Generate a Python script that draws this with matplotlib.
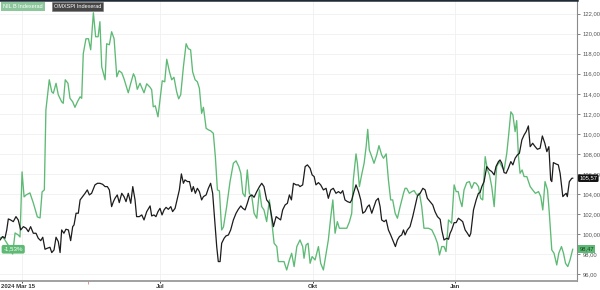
import matplotlib
matplotlib.use("Agg")
import matplotlib.pyplot as plt
import matplotlib.transforms as mtransforms

plt.rcParams["font.family"] = ["Liberation Sans", "DejaVu Sans"]

# Indexed series, x is session position along the axis
nil_x = [0, 1.2, 2.2, 4.4, 5.6, 6.7, 8.1, 8.9, 9.8, 10.7, 11.6, 13.3, 14.8, 16.6, 17.8, 18.7, 19.7,
         20.4, 21.9, 23.0, 23.7, 24.9, 25.9, 27.4, 28.1, 29.0, 30.2, 31.1, 32.3, 33.3, 34.4, 35.6,
         36.3, 37.0, 38.2, 39.3, 40.3, 41.5, 42.5, 43.6, 44.4, 45.2, 46.7, 47.4, 48.6, 49.6, 50.7,
         51.9, 52.9, 54.1, 55.1, 57.0, 58.1, 59.3, 60.0, 61.0, 62.2, 64.0, 65.2, 66.7,
         67.4, 68.1, 69.0, 70.2, 71.1, 72.1, 73.2, 74.1, 75.3, 76.3, 77.3, 78.5, 79.4, 80.3, 81.5,
         82.7, 83.7, 84.7, 85.6, 86.7, 87.7, 88.6, 89.6, 90.4, 91.6, 92.6, 93.6, 94.8, 95.7, 96.6,
         97.5, 98.5, 99.3, 100.7, 102.2, 103.7, 104.9, 106.1, 107.0, 107.9, 108.9, 109.9, 110.8,
         111.9, 112.9, 114.1, 115.3, 116.3, 117.3, 118.5, 119.7, 120.7, 121.8, 123.0, 123.7, 125.2,
         126.2, 127.4, 128.6, 129.6, 130.7, 131.9, 133.3,
         134.5, 135.1, 136.0, 136.9, 137.8, 138.7, 140.0, 141.5, 142.5, 143.7, 144.9, 145.9, 147.0,
         147.9, 148.9, 149.9, 150.8, 152.3, 154.1, 155.3, 156.3, 157.0, 158.2, 158.8, 159.7, 160.7,
         161.8, 162.7, 163.4, 164.1, 165.2, 166.2, 167.4, 168.4, 169.6, 170.4, 171.6, 172.6, 173.6,
         174.5, 175.6, 176.6, 177.8, 179.3, 180.0, 180.7, 181.9, 183.0, 184.0, 185.2, 186.4, 187.4,
         188.4, 190.4, 191.9, 193.3, 194.4, 195.3, 196.3, 197.3, 198.2, 199.3, 200.0,
         200.7, 201.8, 202.7, 203.6, 204.4, 205.3, 206.2, 207.4, 208.6, 209.6, 210.7, 211.6, 212.6,
         213.6, 214.5, 215.6, 216.6, 217.5, 218.5, 219.6, 220.7, 221.9, 223.0, 224.0, 225.2, 226.1,
         227.0, 227.9, 228.9, 229.6, 230.4, 231.1, 232.0, 232.9, 234.1, 235.6, 236.7, 237.9, 239.3,
         240.3, 241.2, 242.2, 243.3, 244.1, 245.2, 246.2, 247.4, 248.3, 249.5, 250.4, 251.3, 252.3,
         253.3, 254.5]
nil_y = [99.6, 99.7, 99.4, 98.6, 98.0, 100.1, 99.9, 99.7, 106.2, 103.7, 103.9, 104.1, 103.1, 101.7,
         101.6, 104.2, 104.4, 112.4, 115.4, 114.2, 114.05, 115.05, 113.9, 113.2, 113.05, 115.4,
         115.05, 113.55, 113.2, 112.65, 113.2, 113.7, 113.55, 118.0, 119.5, 119.5, 118.4, 122.1,
         119.7, 119.7, 121.2, 116.7, 115.4, 119.0, 118.9, 120.2, 119.5, 115.7, 116.3, 116.1, 115.5,
         114.1, 115.05, 116.0, 115.65, 114.45, 115.05, 114.1, 115.0, 114.65,
         114.4, 112.7, 112.8, 111.7, 113.4, 115.3, 115.2, 117.45, 116.2, 115.4, 115.65, 114.2, 113.5,
         113.9, 116.7, 119.0, 118.5, 118.4, 116.2, 115.4, 115.2, 114.55, 112.05, 112.65, 110.55,
         110.4, 110.3, 110.05, 107.7, 104.4, 104.3, 100.4, 100.7, 102.7, 105.2, 107.06, 107.3, 106.73,
         106.06, 104.06, 103.73, 106.4, 104.06, 103.73, 102.07, 101.57, 104.4, 102.73, 102.4, 101.23,
         103.4, 101.4, 99.07, 98.74, 97.24, 97.24, 97.24, 96.4, 97.4, 98.07, 96.74, 98.74, 99.4,
         98.74, 97.57, 98.9, 99.07, 97.07, 97.74, 97.4, 98.74, 97.07, 96.4, 98.07, 99.4, 101.73,
         103.4, 100.07, 101.23, 100.57, 100.57, 100.57, 101.23, 102.07, 105.4, 108.0, 107.06, 104.73,
         105.9, 107.06, 108.72, 110.45, 108.39, 107.72, 107.06, 107.89, 108.82, 107.89, 107.56, 108.0,
         105.4, 103.4, 103.4, 102.07, 101.57, 102.73, 104.06, 104.56, 104.56, 104.06, 104.23, 104.33,
         103.9, 104.06, 102.73, 100.57, 100.57, 100.4, 99.74, 99.07, 97.9, 98.74, 98.74, 98.24,
         101.4, 101.23,
         101.07, 104.9, 104.23, 104.23, 103.4, 102.73, 104.4, 105.13, 105.23, 104.56, 105.13, 105.06,
         104.73, 103.56, 103.4, 107.72, 106.39, 105.9, 104.73, 102.73, 106.73, 107.23, 106.73, 106.39,
         108.06, 110.05, 112.2, 111.9, 110.22, 111.32, 107.72, 106.06, 106.39, 105.73, 105.73, 104.73,
         104.4, 104.06, 104.23, 103.73, 102.4, 105.23, 104.4, 102.07, 98.4, 98.07, 96.9, 98.07, 98.74,
         98.07, 97.07, 96.74, 97.4, 98.47]

omx_x = [0, 1.2, 2.2, 3.0, 3.7, 4.7, 5.9, 7.1, 8.1, 9.2, 10.4, 11.6, 12.6, 13.6, 14.8, 16.0, 17.0,
         18.1, 19.0, 20.0, 21.0, 22.2, 23.0, 24.0, 24.9, 25.9, 26.7, 27.4, 28.4, 29.3, 30.4, 31.4,
         32.3, 32.9, 33.8, 34.8, 35.6, 36.7, 37.8, 38.8, 39.7, 40.7, 42.2, 43.3, 44.4, 45.6, 46.7,
         47.7, 48.6, 49.6, 50.4, 51.1, 52.1, 53.0, 54.1, 55.1, 56.0, 57.0, 58.1, 59.0, 60.0, 60.7,
         61.9, 63.0, 64.0, 65.2, 66.7,
         67.4, 68.4, 69.3, 70.2, 71.1, 72.0, 72.9, 73.8, 74.8, 75.9, 76.7, 77.8, 78.5, 79.7, 80.6,
         81.5, 82.2, 83.3, 84.2, 85.2, 85.9, 86.8, 87.7, 88.6, 89.6, 90.4, 91.6, 92.6, 93.6, 94.5,
         95.6, 96.3, 97.0, 97.8, 98.5, 99.6, 100.4, 101.5, 102.5, 103.7, 104.9, 105.9, 107.0, 107.9,
         108.9, 109.9, 110.8, 111.9, 112.9, 114.1, 115.3, 116.3, 117.3, 118.5, 119.7, 120.7, 121.5,
         122.7, 123.7, 124.7, 125.6, 126.7, 127.7, 128.6, 129.5, 130.4, 131.6, 132.6, 133.3,
         134.5, 135.6, 136.6, 137.8, 138.7, 139.6, 140.4, 141.5, 142.5, 143.7, 144.9, 145.9, 147.0,
         148.1, 149.3, 150.4, 151.4, 152.3, 153.3, 154.4, 155.6, 156.3, 157.3, 158.2, 159.3, 160.3,
         161.2, 162.2, 163.3, 164.1, 165.2, 166.2, 167.1, 168.1, 168.9, 169.6, 170.7, 171.6, 172.6,
         173.6, 174.8, 175.7, 176.6, 177.5, 178.5, 179.3, 180.0, 181.0, 182.2, 183.4, 184.4, 185.5,
         186.7, 187.9, 188.9, 189.9, 191.1, 192.3, 193.3, 194.4, 195.6, 196.3, 197.3, 198.5, 199.3,
         200.0,
         200.7, 201.8, 202.7, 203.7, 204.7, 205.6, 206.7, 207.7, 208.6, 209.2, 210.4, 211.6, 212.6,
         213.3, 214.1, 215.1, 216.3, 217.5, 218.5, 219.6, 220.4, 221.5, 222.2, 223.0, 224.0, 224.9,
         225.9, 227.0, 227.9, 228.9, 229.9, 230.8, 231.9, 232.9, 233.8, 234.8, 235.6, 236.7, 237.8,
         238.8, 240.0, 241.0, 242.1, 243.0, 243.9, 244.7, 245.2, 245.9, 247.1, 248.1, 248.9, 250.1,
         250.8, 251.6, 252.1, 253.0, 254.1, 254.5]
omx_y = [99.4, 99.74, 99.57, 100.4, 101.5, 101.4, 101.23, 101.73, 101.4, 100.4, 100.73, 100.57,
         100.23, 100.73, 100.07, 100.07, 99.57, 99.33, 99.67, 98.47, 98.57, 98.67, 98.14, 98.4, 99.67,
         99.24, 98.14, 100.4, 100.07, 100.47, 100.4, 99.33, 100.73, 100.9, 102.07, 102.07, 103.4,
         103.73, 104.06, 104.4, 103.9, 104.06, 104.9, 105.06, 105.06, 104.96, 104.73, 104.73, 104.4,
         102.73, 103.23, 103.56, 103.9, 103.13, 104.06, 103.73, 103.23, 104.06, 103.06, 104.73, 103.4,
         101.73, 101.73, 101.9, 101.4, 102.23, 102.8,
         101.8, 101.9, 101.73, 102.23, 102.56, 101.9, 102.4, 102.66, 102.46, 102.73, 102.23, 102.56,
         103.23, 104.4, 106.0, 105.06, 105.4, 105.23, 105.23, 104.23, 104.73, 104.06, 104.56, 104.23,
         103.4, 103.73, 103.9, 104.56, 105.06, 104.06, 100.73, 98.74, 97.24, 97.24, 99.07, 99.57,
         99.8, 99.9, 100.4, 101.4, 102.07, 102.46, 102.8, 102.56, 102.4, 103.06, 103.73, 103.9, 103.66,
         104.23, 104.73, 105.06, 104.73, 103.4, 103.06, 101.73, 100.73, 101.73, 101.57, 101.4, 102.4,
         102.9, 103.06, 103.9, 103.4, 105.06, 104.9, 104.9, 104.73,
         104.9, 106.73, 106.9, 106.56, 105.9, 105.73, 104.9, 105.13, 104.9, 104.4, 104.56, 103.56,
         104.4, 104.56, 104.06, 104.23, 104.06, 104.33, 103.4, 103.23, 103.13, 103.4, 104.23, 104.9,
         104.23, 103.4, 102.07, 102.23, 102.73, 102.9, 102.07, 102.73, 103.33, 103.56, 102.73, 101.4,
         101.23, 101.4, 100.4, 99.9, 99.24, 98.74, 99.4, 99.74, 99.9, 100.4, 99.9, 100.4, 100.73,
         101.73, 102.73, 103.8, 104.06, 104.56, 104.4, 103.56, 103.23, 102.9, 102.23, 101.73, 101.46,
         100.4, 99.4, 99.57, 99.47, 100.07,
         100.4, 101.13, 101.13, 101.57, 101.4, 101.23, 100.4, 100.07, 99.74, 100.07, 102.4, 103.4,
         104.06, 104.13, 104.73, 105.23, 106.73, 106.39, 106.23, 105.9, 106.73, 107.23, 107.39, 107.06,
         106.13, 106.06, 106.56, 107.23, 106.9, 107.56, 107.89, 108.06, 109.39, 109.89, 110.22, 110.79,
         108.72, 109.06, 108.72, 108.46, 108.56, 109.79, 109.06, 108.22, 108.72, 105.4, 105.23, 107.13,
         106.99, 106.9, 106.06, 103.73, 103.9, 104.06, 103.73, 105.23, 105.56, 105.57]

tick_pos = [9.8, 71.3, 139.1, 202.2]
tick_labels = ["2024 Mar 15", "Jul", "Okt", "Jan"]
y_ticks = [96, 98, 100, 102, 104, 106, 108, 110, 112, 114, 116, 118, 120, 122]
nil_last = 98.47
omx_last = 105.57
nil_change = "-1,53%"

green = "#5dba74"
dark = "#1c1c1c"

fig = plt.figure(figsize=(6, 2.9), dpi=100)
ax = fig.add_axes([0, 1 - 281 / 290, 577 / 600, 281 / 290])

ax.plot(nil_x, nil_y, color=green, lw=0.95, zorder=3)
ax.plot(omx_x, omx_y, color=dark, lw=0.9, zorder=4)

ax.set_xlim(0, 256.4)
ax.set_ylim(95.3, 123.37)

ax.yaxis.tick_right()
ax.set_yticks(y_ticks)
ax.set_yticklabels([f"{v:.2f}".replace(".", ",") for v in y_ticks])
ax.tick_params(axis="y", labelsize=4.2, colors="#555555", length=2, width=0.5, pad=2)

ax.set_xticks(tick_pos)
ax.set_xticklabels([""] + tick_labels[1:])
ax.set_xticks([39.1], minor=True)
ax.tick_params(axis="x", labelsize=4.3, colors="#333333", length=1.5, width=0.6, pad=0.6)
ax.tick_params(axis="x", which="minor", length=2, color="#e08080")
for lab in ax.get_xticklabels():
    lab.set_fontweight("bold")
# first label sits flush at the left edge
ax.text(0.002, -0.009, tick_labels[0], transform=ax.transAxes, ha="left", va="top",
        fontsize=4.3, fontweight="bold", color="#333333")

ax.grid(True, color="#f0f0f0", lw=0.6)
ax.set_axisbelow(True)

ax.spines["left"].set_visible(False)
ax.spines["right"].set_color("#8a8a8a")
ax.spines["right"].set_linewidth(0.8)
ax.spines["bottom"].set_color("#9a9a9a")
ax.spines["bottom"].set_linewidth(1.3)
ax.spines["top"].set_color("#1f2a36")
ax.spines["top"].set_linewidth(1.8)

# legend chips
fig.text(3 / 600, 1 - 6.5 / 290, "NIL B Indexerad", fontsize=4.0, color="white", va="center",
         ha="left", bbox=dict(boxstyle="square,pad=0.35", fc="#8cc79c", ec="none"))
fig.text(54 / 600, 1 - 6.5 / 290, "OMXSPI Indexerad", fontsize=4.0, color="white", va="center",
         ha="left", bbox=dict(boxstyle="square,pad=0.35", fc="#454545", ec="#777777", lw=0.4))

# last value tags on the right axis
trans = mtransforms.blended_transform_factory(ax.transAxes, ax.transData)
ax.text(1.004, omx_last, f"{omx_last:.2f}".replace(".", ","), transform=trans, fontsize=4.2,
        color="white", va="center", ha="left", zorder=6, clip_on=False,
        bbox=dict(boxstyle="round,pad=0.22", fc="#111111", ec="none"))
ax.text(1.004, nil_last, f"{nil_last:.2f}".replace(".", ","), transform=trans, fontsize=4.2,
        color="#1f3f27", va="center", ha="left", zorder=6, clip_on=False,
        bbox=dict(boxstyle="square,pad=0.25", fc=green, ec="none"))

# start change tag on the left
ax.text(0.006, nil_last, nil_change, transform=trans, fontsize=4.4, color="white",
        va="center", ha="left", zorder=6,
        bbox=dict(boxstyle="round,pad=0.3", fc=green, ec="none"))

fig.savefig("out.png", dpi=100)
